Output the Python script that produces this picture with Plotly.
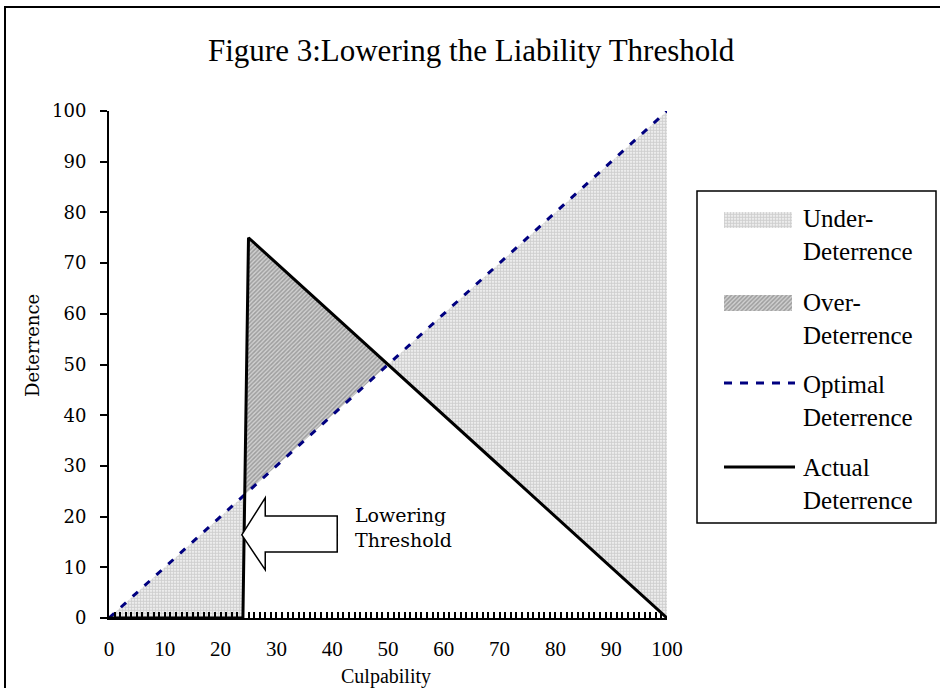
import numpy as np
import plotly.graph_objects as go

W, H = 940, 688

# Deterrence schedules, given by their corner points (culpability, deterrence)
optimal_x = [0, 100]
optimal_y = [0, 100]
actual_x = [0, 24, 25, 100]
actual_y = [0, 0, 75, 0]

x_tick_vals = [0, 10, 20, 30, 40, 50, 60, 70, 80, 90, 100]
y_tick_vals = [0, 10, 20, 30, 40, 50, 60, 70, 80, 90, 100]

legend_labels = ["Under-<br>Deterrence", "Over-<br>Deterrence",
                 "Optimal<br>Deterrence", "Actual<br>Deterrence"]
title_text = "Figure 3:Lowering the Liability Threshold"
arrow_text = "Lowering<br>Threshold"

# ---- geometry of the shaded bands (between the two schedules) ----
grid = np.union1d(optimal_x, actual_x).astype(float)
d = np.interp(grid, actual_x, actual_y) - np.interp(grid, optimal_x, optimal_y)
xs = [grid[0]]
for i in range(len(grid) - 1):
    if d[i] * d[i + 1] < 0:
        t = d[i] / (d[i] - d[i + 1])
        xs.append(grid[i] + t * (grid[i + 1] - grid[i]))
    xs.append(grid[i + 1])
xs = np.array(xs)
o = np.interp(xs, optimal_x, optimal_y)
a = np.interp(xs, actual_x, actual_y)
lo = np.minimum(a, o)
hi = np.maximum(a, o)

UNDER_PAT = dict(shape=".", fgcolor="#a0a0a0", bgcolor="#ffffff", size=3, solidity=0.7)
OVER_PAT = dict(shape="/", fgcolor="#6a6a6a", bgcolor="#d0d0d0", size=3, solidity=0.5)
NAVY = "#000080"

SERIF = "Liberation Serif"
CENTURY = "DejaVu Serif"

fig = go.Figure()

# under-deterrence band
fig.add_trace(go.Scatter(x=xs, y=lo, mode="lines", line=dict(width=0),
                         hoverinfo="skip", showlegend=False))
fig.add_trace(go.Scatter(x=xs, y=o, mode="lines", line=dict(width=0),
                         fill="tonexty", fillcolor="#ffffff", fillpattern=UNDER_PAT,
                         name="Under-Deterrence", showlegend=False))
# over-deterrence band
fig.add_trace(go.Scatter(x=xs, y=o, mode="lines", line=dict(width=0),
                         hoverinfo="skip", showlegend=False))
fig.add_trace(go.Scatter(x=xs, y=hi, mode="lines", line=dict(width=0),
                         fill="tonexty", fillcolor="#d0d0d0", fillpattern=OVER_PAT,
                         name="Over-Deterrence", showlegend=False))
# schedules
fig.add_trace(go.Scatter(x=optimal_x, y=optimal_y, mode="lines",
                         line=dict(color=NAVY, width=3, dash="7px,9px"),
                         name="Optimal Deterrence", showlegend=False))
fig.add_trace(go.Scatter(x=actual_x, y=actual_y, mode="lines",
                         line=dict(color="black", width=3),
                         name="Actual Deterrence", showlegend=False))

# ---- legend drawn on a pixel-space overlay axis ----
SW_X0, SW_X1 = 724, 792
legend_rows = [  # (swatch kind, swatch y top, swatch y bottom / line y, text centre y)
    ("under", 212, 228, 235),
    ("over", 295, 311, 319),
    ("optimal", 383, 383, 401),
    ("actual", 467, 467, 484),
]
for (kind, y0, y1, ty), label in zip(legend_rows, legend_labels):
    if kind in ("under", "over"):
        fig.add_trace(go.Scatter(
            x=[SW_X0, SW_X1, SW_X1, SW_X0, SW_X0], y=[y0, y0, y1, y1, y0],
            mode="lines", line=dict(width=0), fill="toself",
            fillcolor="#ffffff" if kind == "under" else "#d0d0d0",
            fillpattern=UNDER_PAT if kind == "under" else OVER_PAT,
            xaxis="x2", yaxis="y2", hoverinfo="skip", showlegend=False))
    elif kind == "optimal":
        fig.add_trace(go.Scatter(
            x=[SW_X0, SW_X1 + 3], y=[y0, y0], mode="lines",
            line=dict(color=NAVY, width=3, dash="8px,8px"),
            xaxis="x2", yaxis="y2", hoverinfo="skip", showlegend=False))
    else:
        fig.add_trace(go.Scatter(
            x=[SW_X0, SW_X1 + 3], y=[y0, y0], mode="lines",
            line=dict(color="black", width=3),
            xaxis="x2", yaxis="y2", hoverinfo="skip", showlegend=False))
    fig.add_annotation(text=label, x=801 / W, y=1 - ty / H, xref="paper", yref="paper",
                       xanchor="left", yanchor="middle", align="left", showarrow=False,
                       font=dict(family=SERIF, size=25, color="black"))

# ---- annotations ----
fig.add_annotation(text=title_text, x=472 / W, y=1 - 50 / H, xref="paper", yref="paper",
                   xanchor="center", yanchor="middle", showarrow=False,
                   font=dict(family=SERIF, size=31, color="black"))
fig.add_annotation(text="Culpability", x=386 / W, y=1 - 676 / H, xref="paper", yref="paper",
                   xanchor="center", yanchor="middle", showarrow=False,
                   font=dict(family=SERIF, size=20, color="black"))
fig.add_annotation(text="Deterrence", x=32 / W, y=1 - 346 / H, xref="paper", yref="paper",
                   xanchor="center", yanchor="middle", textangle=-90, showarrow=False,
                   font=dict(family=CENTURY, size=18, color="black"))
fig.add_annotation(text=arrow_text, x=43.7, y=17.9, xref="x", yref="y",
                   xanchor="left", yanchor="middle", align="left", showarrow=False,
                   font=dict(family=CENTURY, size=19, color="black"))

# block arrow pointing at the lowered threshold
fig.add_shape(type="path",
              path="M 23.8,16.4 L 28,23.7 L 28,20.1 L 40.9,20.1 L 40.9,13.0 L 28,13.0 L 28,9.5 Z",
              xref="x", yref="y", line=dict(color="black", width=1.5), fillcolor="white",
              layer="above")
# legend box
fig.add_shape(type="rect", xref="paper", yref="paper",
              x0=697 / W, x1=936 / W, y0=1 - 523 / H, y1=1 - 191 / H,
              line=dict(color="black", width=1.5), fillcolor="rgba(0,0,0,0)")
# chart frame (left and top edges fall inside the page)
fig.add_shape(type="path", xref="paper", yref="paper",
              path=f"M {5 / W},0 L {5 / W},{1 - 7 / H} L 1,{1 - 7 / H}",
              line=dict(color="black", width=2))

fig.update_layout(
    width=W, height=H, autosize=False,
    margin=dict(l=0, r=0, t=0, b=0, pad=0, autoexpand=False),
    paper_bgcolor="white", plot_bgcolor="rgba(0,0,0,0)",
    showlegend=False,
    xaxis=dict(domain=[109 / W, 667 / W], range=[0, 100], anchor="y",
               automargin=False,
               tickmode="array", tickvals=x_tick_vals,
               ticks="inside", ticklen=6, tickwidth=1.5, tickcolor="black",
               minor=dict(dtick=1, tick0=0, ticks="inside", ticklen=6,
                          tickwidth=1.5, tickcolor="black"),
               showline=True, linewidth=2, linecolor="black",
               showgrid=False, zeroline=False, fixedrange=True,
               ticklabelstandoff=11,
               tickfont=dict(family=SERIF, size=21, color="black")),
    yaxis=dict(domain=[1 - 618 / H, 1 - 111 / H], range=[0, 100], anchor="x",
               automargin=False,
               tickmode="array", tickvals=y_tick_vals,
               ticks="outside", ticklen=7, tickwidth=1.5, tickcolor="black",
               showline=True, linewidth=2, linecolor="black",
               showgrid=False, zeroline=False, fixedrange=True,
               ticklabelstandoff=10,
               tickfont=dict(family=CENTURY, size=18, color="black")),
    xaxis2=dict(domain=[0, 1], range=[0, W], anchor="y2", visible=False,
                automargin=False, fixedrange=True),
    yaxis2=dict(domain=[0, 1], range=[H, 0], anchor="x2", visible=False,
                automargin=False, fixedrange=True),
)

fig.write_html("out.html")
